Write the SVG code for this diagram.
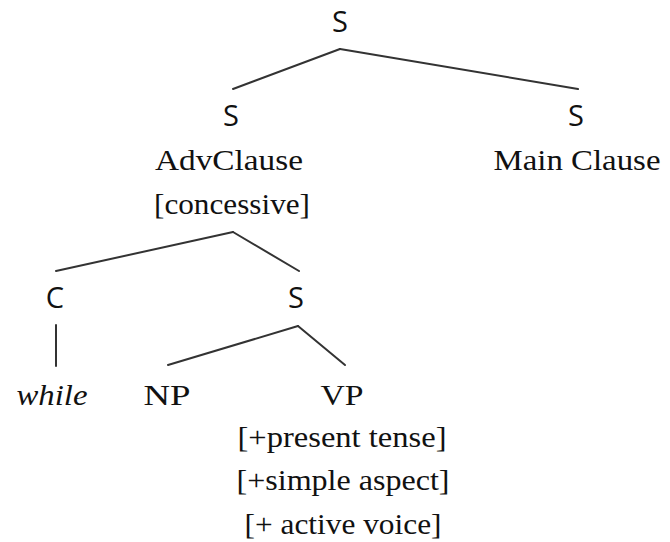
<svg xmlns="http://www.w3.org/2000/svg" width="670" height="542" viewBox="0 0 670 542">
<style>
.sans{font-family:"Open Sans","Liberation Sans",sans-serif;font-size:29px;fill:#111;text-anchor:middle}
.serif{font-family:"Liberation Serif","DejaVu Serif",serif;font-size:29px;fill:#111;text-anchor:middle}
.it{font-style:italic}
.edge{stroke:#333;stroke-width:2;fill:none;stroke-linecap:round}
</style>
<rect width="670" height="542" fill="#fff"/>
<g id="connectors">
<line class="edge" x1="340" y1="49" x2="233" y2="89"/>
<line class="edge" x1="340" y1="49" x2="578" y2="89"/>
<line class="edge" x1="233" y1="232" x2="56" y2="271"/>
<line class="edge" x1="233" y1="232" x2="299" y2="271"/>
<line class="edge" x1="56" y1="325" x2="56" y2="366"/>
<line class="edge" x1="298" y1="326" x2="168" y2="365"/>
<line class="edge" x1="298" y1="326" x2="345" y2="365"/>
</g>
<g id="n-root"><text class="sans" x="340" y="32">S</text></g>
<g id="n-adv"><text class="sans" x="231" y="126">S</text>
<text class="serif" x="229" y="170" textLength="148" lengthAdjust="spacingAndGlyphs">AdvClause</text>
<text class="serif" x="232" y="214" textLength="156" lengthAdjust="spacingAndGlyphs">[concessive]</text></g>
<g id="n-main"><text class="sans" x="576" y="126">S</text>
<text class="serif" x="577" y="170" textLength="167" lengthAdjust="spacingAndGlyphs">Main Clause</text></g>
<g id="n-c"><text class="sans" x="55" y="308">C</text></g>
<g id="n-s2"><text class="sans" x="296" y="308">S</text></g>
<g id="n-while"><text class="serif it" x="52" y="405" textLength="71" lengthAdjust="spacingAndGlyphs">while</text></g>
<g id="n-np"><text class="serif" x="167" y="405" textLength="47" lengthAdjust="spacingAndGlyphs">NP</text></g>
<g id="n-vp"><text class="serif" x="342" y="405" textLength="43" lengthAdjust="spacingAndGlyphs">VP</text>
<text class="serif" x="342" y="447" textLength="209" lengthAdjust="spacingAndGlyphs">[+present tense]</text>
<text class="serif" x="343" y="490" textLength="213" lengthAdjust="spacingAndGlyphs">[+simple aspect]</text>
<text class="serif" x="343" y="534" textLength="197" lengthAdjust="spacingAndGlyphs">[+ active voice]</text></g>
</svg>
